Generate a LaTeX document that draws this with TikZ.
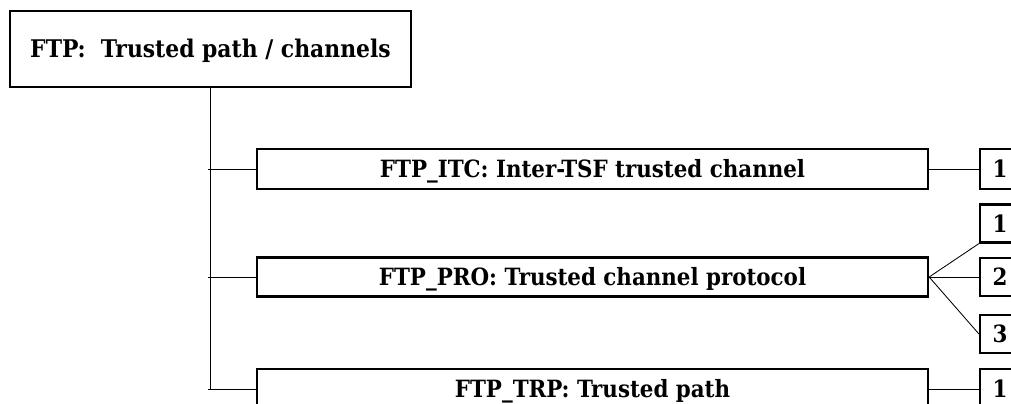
\documentclass[tikz,border=0pt]{standalone}
\usepackage{fontspec}
\setmainfont{DejaVu Serif Condensed}
\usetikzlibrary{positioning}

\begin{document}
\begin{tikzpicture}[x=0.025cm,y=-0.025cm,
    classbox/.style={draw,line width=1.5pt,inner sep=0pt,minimum height=0.975cm,minimum width=16.775cm,
        text height=12.3pt,text depth=0pt,font=\bfseries\fontsize{16.9}{20}\selectfont},
    levelbox/.style={draw,line width=1.5pt,inner sep=0pt,minimum height=0.95cm,minimum width=1cm,
        text height=12.3pt,text depth=0pt,font=\bfseries\fontsize{16.9}{20}\selectfont},
    link/.style={line width=0.6pt}]
    \useasboundingbox (0,0) rectangle (1011,403);
    \clip (0,0) rectangle (1011,403);

    % family
    \node[draw,line width=1.6pt,minimum width=10.025cm,minimum height=1.9cm,inner sep=0pt,
          text height=12.6pt,text depth=0pt,
          font=\bfseries\fontsize{17.3}{20}\selectfont] (ftp) at (210.5,49) {FTP:~~Trusted path / channels};

    % components
    \node[classbox,minimum height=1cm] (itc) at (592.5,169) {FTP\_ITC: Inter-TSF trusted channel};
    \node[classbox] (pro) at (592.5,277) {FTP\_PRO: Trusted channel protocol};
    \node[classbox,minimum height=1cm] (trp) at (592.5,389) {FTP\_TRP: Trusted path};

    % levels
    \node[levelbox,minimum height=1cm] (itc1) at (1000,169) {1};
    \node[levelbox] (pro1) at (1000,223.5) {1};
    \node[levelbox] (pro2) at (1000,277) {2};
    \node[levelbox] (pro3) at (1000,334) {3};
    \node[levelbox,minimum height=1cm] (trp1) at (1000,389) {1};

    % tree
    \coordinate (tk1) at (208,169);
    \coordinate (tk2) at (208,277);
    \coordinate (tk3) at (208,389);
    \draw[link] (ftp.south) -- (ftp.south |- trp.west);
    \draw[link] (tk1) -- (itc.west);
    \draw[link] (tk2) -- (pro.west);
    \draw[link] (tk3) -- (trp.west);

    \draw[link] (itc.east) -- (itc1.west);
    \draw[link] (pro.east) -- (pro1.south west);
    \draw[link] (pro.east) -- (pro2.west);
    \draw[link] (pro.east) -- (pro3.west);
    \draw[link] (trp.east) -- (trp1.west);
\end{tikzpicture}
\end{document}
